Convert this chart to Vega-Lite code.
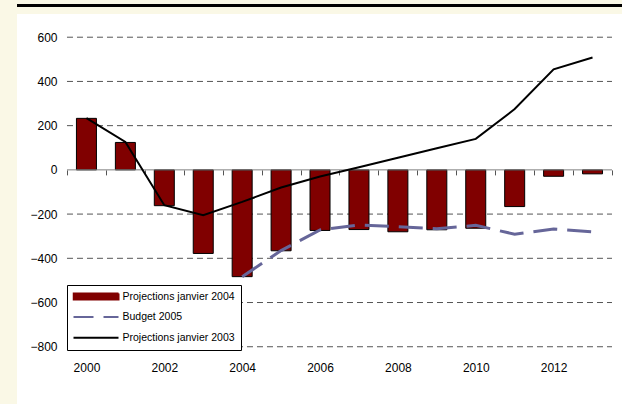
{
  "$schema": "https://vega.github.io/schema/vega-lite/v6.json",
  "background": "#FAF8E6",
  "padding": {"left": 17, "top": 4, "right": 0, "bottom": 0},
  "spacing": 7,
  "config": {
    "view": {"stroke": null},
    "font": "Liberation Sans",
    "axis": {"labelFont": "Liberation Sans", "labelColor": "black", "labelFontSize": 12}
  },
  "datasets": {
    "d": [
      {"year": 2000, "series": "Projections janvier 2004", "value": 233},
      {"year": 2001, "series": "Projections janvier 2004", "value": 124},
      {"year": 2002, "series": "Projections janvier 2004", "value": -162},
      {"year": 2003, "series": "Projections janvier 2004", "value": -378},
      {"year": 2004, "series": "Projections janvier 2004", "value": -483},
      {"year": 2005, "series": "Projections janvier 2004", "value": -366},
      {"year": 2006, "series": "Projections janvier 2004", "value": -274},
      {"year": 2007, "series": "Projections janvier 2004", "value": -270},
      {"year": 2008, "series": "Projections janvier 2004", "value": -280},
      {"year": 2009, "series": "Projections janvier 2004", "value": -271},
      {"year": 2010, "series": "Projections janvier 2004", "value": -264},
      {"year": 2011, "series": "Projections janvier 2004", "value": -166},
      {"year": 2012, "series": "Projections janvier 2004", "value": -29},
      {"year": 2013, "series": "Projections janvier 2004", "value": -18},
      {"year": 2004, "series": "Budget 2005", "value": -483},
      {"year": 2005, "series": "Budget 2005", "value": -365},
      {"year": 2006, "series": "Budget 2005", "value": -272},
      {"year": 2007, "series": "Budget 2005", "value": -249},
      {"year": 2008, "series": "Budget 2005", "value": -257},
      {"year": 2009, "series": "Budget 2005", "value": -266},
      {"year": 2010, "series": "Budget 2005", "value": -251},
      {"year": 2011, "series": "Budget 2005", "value": -291},
      {"year": 2012, "series": "Budget 2005", "value": -267},
      {"year": 2013, "series": "Budget 2005", "value": -280},
      {"year": 2000, "series": "Projections janvier 2003", "value": 234},
      {"year": 2001, "series": "Projections janvier 2003", "value": 126},
      {"year": 2002, "series": "Projections janvier 2003", "value": -160},
      {"year": 2003, "series": "Projections janvier 2003", "value": -205},
      {"year": 2004, "series": "Projections janvier 2003", "value": -145},
      {"year": 2005, "series": "Projections janvier 2003", "value": -80},
      {"year": 2006, "series": "Projections janvier 2003", "value": -30},
      {"year": 2007, "series": "Projections janvier 2003", "value": 12},
      {"year": 2008, "series": "Projections janvier 2003", "value": 55},
      {"year": 2009, "series": "Projections janvier 2003", "value": 98},
      {"year": 2010, "series": "Projections janvier 2003", "value": 140},
      {"year": 2011, "series": "Projections janvier 2003", "value": 275},
      {"year": 2012, "series": "Projections janvier 2003", "value": 455},
      {"year": 2013, "series": "Projections janvier 2003", "value": 508}
    ],
    "grid": [
      {"v": -800}, {"v": -600}, {"v": -400}, {"v": -200}, {"v": 200}, {"v": 400}, {"v": 600}
    ]
  },
  "vconcat": [
    {
      "width": 605,
      "height": 3,
      "view": {"fill": "black", "stroke": null},
      "data": {"values": []},
      "mark": "point"
    },
    {
      "width": 605,
      "height": 390,
      "view": {"fill": "white", "stroke": null},
      "resolve": {"axis": {"x": "independent"}},
      "layer": [
        {
          "data": {"name": "grid"},
          "mark": {"type": "rule", "stroke": "#555555", "strokeWidth": 1, "strokeDash": [6, 4]},
          "encoding": {
            "y": {
              "field": "v", "type": "quantitative", "title": null,
              "scale": {"domain": [-1059, 705], "nice": false, "zero": false},
              "axis": {"orient": "left", "offset": -50, "values": [-800, -600, -400, -200, 0, 200, 400, 600], "domain": false, "ticks": false, "grid": false, "labelPadding": 10, "title": null, "labelFontSize": 12}
            },
            "x": {"datum": 1999.5, "type": "quantitative", "scale": {"domain": [1998.216, 2013.757], "nice": false, "zero": false, "padding": 0}, "axis": null},
            "x2": {"datum": 2013.5}
          }
        },
        {
          "data": {"name": "d"},
          "transform": [{"filter": "datum.series === 'Projections janvier 2004'"}],
          "mark": {"type": "bar", "size": 20, "stroke": "black", "strokeWidth": 1},
          "encoding": {
            "x": {
              "field": "year", "type": "quantitative", "title": null,
              "scale": {"domain": [1998.216, 2013.757], "nice": false, "zero": false, "padding": 0},
              "axis": {"orient": "bottom", "offset": -56, "values": [2000, 2002, 2004, 2006, 2008, 2010, 2012], "format": "d", "domain": false, "ticks": false, "grid": false, "labelPadding": 14, "title": null, "labelFontSize": 12, "labelFlush": false}
            },
            "y": {"field": "value", "type": "quantitative", "title": null},
            "y2": {"datum": 0},
            "color": {
              "field": "series", "type": "nominal",
              "scale": {"domain": ["Projections janvier 2004", "Budget 2005", "Projections janvier 2003"], "range": ["#800000", "#666699", "#000000"]},
              "legend": {
                "orient": "none", "legendX": 50, "legendY": 281, "title": null,
                "fillColor": "white", "strokeColor": "black", "padding": 5.5,
                "symbolType": "stroke", "symbolSize": 2025, "clipHeight": 12, "rowPadding": 8.6,
                "labelOffset": 3, "labelFontSize": 10.5, "labelFont": "Liberation Sans", "labelColor": "black",
                "symbolStrokeWidth": 2,
                "encoding": {
                  "symbols": {
                    "shape": {"value": {"expr": "datum.value === 'Projections janvier 2004' ? 'M-1,-0.13H1V0.13H-1Z' : 'stroke'"}},
                    "fill": {"value": {"expr": "datum.value === 'Projections janvier 2004' ? '#800000' : 'transparent'"}},
                    "stroke": {"value": {"expr": "datum.value === 'Budget 2005' ? '#666699' : '#000000'"}},
                    "strokeDash": {"value": {"expr": "datum.value === 'Budget 2005' ? [20, 10] : [1, 0]"}},
                    "opacity": {"value": 1}
                  }
                }
              }
            }
          }
        },
        {
          "data": {"values": [{}]},
          "mark": {"type": "rule", "stroke": "#808080", "strokeWidth": 1},
          "encoding": {
            "x": {
              "datum": 1999.5, "type": "quantitative",
              "axis": {"orient": "top", "offset": -155.9, "values": [1999.5, 2000.5, 2001.5, 2002.5, 2003.5, 2004.5, 2005.5, 2006.5, 2007.5, 2008.5, 2009.5, 2010.5, 2011.5, 2012.5, 2013.5], "labels": false, "domain": false, "ticks": true, "tickSize": -5, "tickColor": "#555555", "grid": false, "title": null}
            },
            "x2": {"datum": 2013.5},
            "y": {"datum": 0, "type": "quantitative", "title": null}
          }
        },
        {
          "data": {"name": "d"},
          "transform": [{"filter": "datum.series === 'Budget 2005'"}],
          "mark": {"type": "line", "strokeWidth": 3, "strokeDash": [24, 10]},
          "encoding": {
            "x": {"field": "year", "type": "quantitative", "axis": null},
            "y": {"field": "value", "type": "quantitative", "title": null},
            "color": {"field": "series", "type": "nominal"}
          }
        },
        {
          "data": {"name": "d"},
          "transform": [{"filter": "datum.series === 'Projections janvier 2003'"}],
          "mark": {"type": "line", "strokeWidth": 2},
          "encoding": {
            "x": {"field": "year", "type": "quantitative", "axis": null},
            "y": {"field": "value", "type": "quantitative", "title": null},
            "color": {"field": "series", "type": "nominal"}
          }
        }
      ]
    }
  ]
}
